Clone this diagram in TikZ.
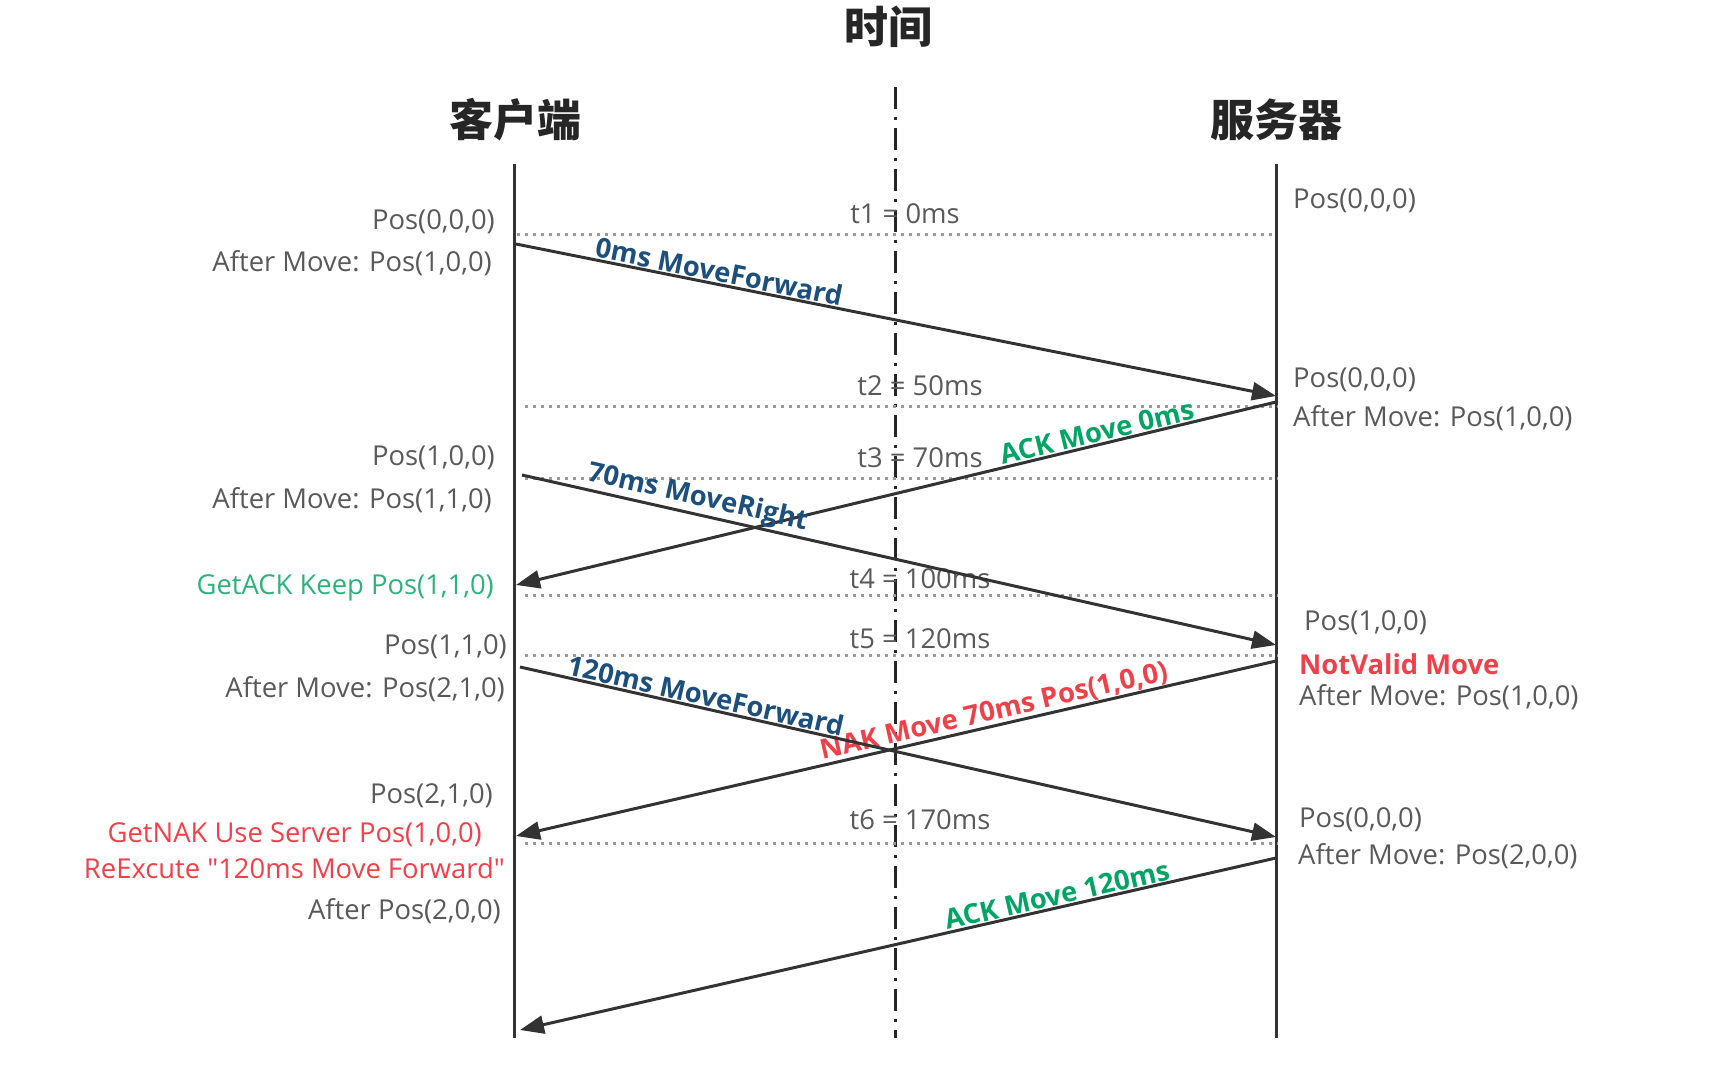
\documentclass[tikz,border=0pt]{standalone}
\usepackage{fontspec}
\setmainfont{Open Sans}
\newfontfamily\plainq{Open Sans}
\newfontfamily\cjk{Noto Sans CJK SC}
\usetikzlibrary{arrows.meta}
\definecolor{txtgray}{HTML}{595959}
\definecolor{lblue}{HTML}{1D4F7C}
\definecolor{lgreen}{HTML}{00A564}
\definecolor{lgreenb}{HTML}{2DB37A}
\definecolor{lred}{HTML}{F0404A}
\definecolor{linegray}{HTML}{333333}
\definecolor{dotgray}{HTML}{9A9A9A}
\tikzset{
  title/.style={font=\cjk\bfseries\fontsize{44}{48}\selectfont, text=black!85, inner sep=0pt},
  lifeline/.style={draw=linegray, line width=3pt},
  midline/.style={draw=black!85, line width=3pt, dash pattern=on 22pt off 8pt on 3pt off 8pt},
  dotline/.style={draw=dotgray, line width=3pt, dash pattern=on 2.5pt off 5.5pt},
  msg/.style={draw=linegray, line width=3pt, -{Triangle[length=24pt,width=18pt]}},
  info/.style={font=\fontsize{27.4}{31}\selectfont, text=txtgray, inner sep=0pt},
  linfo/.style={info, anchor=east},
  rinfo/.style={info, anchor=west},
  tlabel/.style={info},
  mlabel/.style={font=\bfseries\fontsize{27.4}{31}\selectfont, sloped, above, inner sep=1pt},
}
\begin{document}
\begin{tikzpicture}[x=1pt,y=-1pt]
\useasboundingbox (0,0) rectangle (1714,1070);
% titles
\node[title] (ttime) at (888,27) {时间};
\node[title] (tcli) at (515,120) {客户端};
\node[title] (tsrv) at (1276,120) {服务器};
% life lines
\coordinate (ctop) at (514,164);
\coordinate (cbot) at (514,1038);
\coordinate (stop) at (1276,164);
\coordinate (sbot) at (1276,1038);
\coordinate (mtop) at (895,87);
\coordinate (mbot) at (895,1038);
\draw[lifeline] (ctop) -- (cbot);
\draw[lifeline] (stop) -- (sbot);
\draw[midline] (mtop) -- (mbot);
% dotted time lines
\coordinate (d1a) at (517,234); \coordinate (d1b) at (1274,234);
\coordinate (d2a) at (525,406); \coordinate (d2b) at (1278,406);
\coordinate (d3a) at (525,478); \coordinate (d3b) at (1278,478);
\coordinate (d4a) at (525,595); \coordinate (d4b) at (1278,595);
\coordinate (d5a) at (525,655); \coordinate (d5b) at (1278,655);
\coordinate (d6a) at (525,843); \coordinate (d6b) at (1278,843);
\foreach \i in {1,...,6} {\draw[dotline] (d\i a) -- (d\i b);}
% time labels
\node[tlabel] (t1) at (905,214) {t1 = 0ms};
\node[tlabel] (t2) at (920,386) {t2 = 50ms};
\node[tlabel] (t3) at (920,458) {t3 = 70ms};
\node[tlabel] (t4) at (920,579) {t4 = 100ms};
\node[tlabel] (t5) at (920,639) {t5 = 120ms};
\node[tlabel] (t6) at (920,820) {t6 = 170ms};
% message end points
\coordinate (a1s) at (516,244);  \coordinate (a1e) at (1276,396);
\coordinate (a2s) at (1276,402); \coordinate (a2e) at (516,585);
\coordinate (a3s) at (522,475);  \coordinate (a3e) at (1276,645);
\coordinate (a4s) at (1276,661); \coordinate (a4e) at (516,836);
\coordinate (a5s) at (520,667);  \coordinate (a5e) at (1276,837);
\coordinate (a6s) at (1276,858); \coordinate (a6e) at (520,1030);
% messages
\draw[msg] (a1s) -- node[mlabel, pos=0.264, text=lblue] (m1) {0ms MoveForward} (a1e);
\draw[msg] (a2s) -- node[mlabel, pos=0.232, text=lgreen] (m2) {ACK Move 0ms} (a2e);
\draw[msg] (a3s) -- node[mlabel, pos=0.228, text=lblue] (m3) {70ms MoveRight} (a3e);
\draw[msg] (a4s) -- node[mlabel, pos=0.367, text=lred, inner sep=0pt] (m4) {NAK Move 70ms Pos(1,0,0)} (a4e);
\draw[msg] (a5s) -- node[mlabel, pos=0.242, text=lblue] (m5) {120ms MoveForward} (a5e);
\draw[msg] (a6s) -- node[mlabel, pos=0.286, text=lgreen] (m6) {ACK Move 120ms} (a6e);
% client side info
\node[linfo] (c1) at (495,222) {Pos(0,0,0)};
\node[linfo] (c2) at (492,263) {After Move: Pos(1,0,0)};
\node[linfo] (c3) at (495,458) {Pos(1,0,0)};
\node[linfo] (c4) at (492,500) {After Move: Pos(1,1,0)};
\node[linfo, text=lgreenb] (c5) at (494,588) {GetACK Keep Pos(1,1,0)};
\node[linfo] (c6) at (507,647) {Pos(1,1,0)};
\node[linfo] (c7) at (505,689) {After Move: Pos(2,1,0)};
\node[linfo] (c8) at (493,796) {Pos(2,1,0)};
\node[linfo, text=lred] (c9) at (482,835) {GetNAK Use Server Pos(1,0,0)};
\node[linfo, text=lred, font=\plainq\fontsize{27.4}{31}\selectfont] (c10) at (505,868) {ReExcute "120ms Move Forward"};
\node[linfo] (c11) at (501,911) {After Pos(2,0,0)};
% server side info
\node[rinfo] (s1) at (1293,201) {Pos(0,0,0)};
\node[rinfo] (s2) at (1293,380) {Pos(0,0,0)};
\node[rinfo] (s3) at (1293,418) {After Move: Pos(1,0,0)};
\node[rinfo] (s4) at (1304,623) {Pos(1,0,0)};
\node[rinfo, text=lred, font=\bfseries\fontsize{27.4}{31}\selectfont] (s5) at (1299,664) {NotValid Move};
\node[rinfo] (s6) at (1299,697) {After Move: Pos(1,0,0)};
\node[rinfo] (s7) at (1299,820) {Pos(0,0,0)};
\node[rinfo] (s8) at (1298,856) {After Move: Pos(2,0,0)};
\end{tikzpicture}
\end{document}
